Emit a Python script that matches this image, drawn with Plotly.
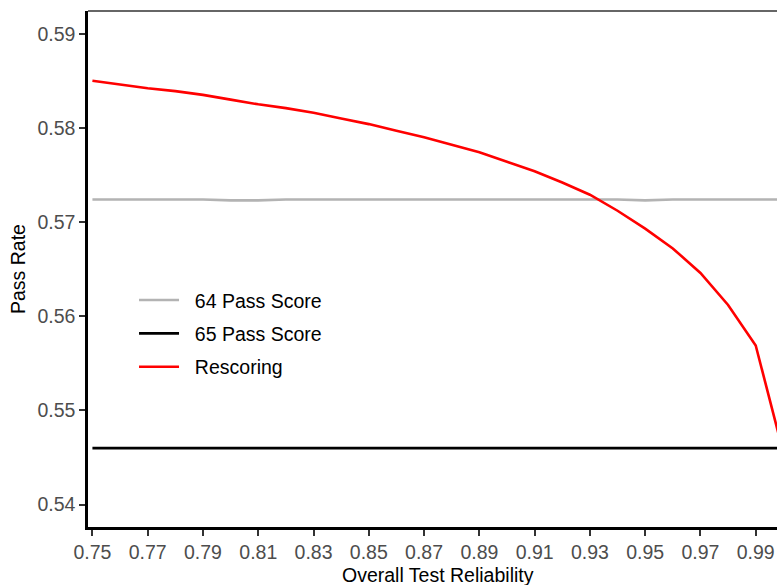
import plotly.graph_objects as go

reliability = [0.75, 0.76, 0.77, 0.78, 0.79, 0.80, 0.81, 0.82, 0.83, 0.84, 0.85, 0.86,
               0.87, 0.88, 0.89, 0.90, 0.91, 0.92, 0.93, 0.94, 0.95, 0.96, 0.97, 0.98,
               0.99, 1.00]
rescoring = [0.5850, 0.5846, 0.5842, 0.5839, 0.5835, 0.5830, 0.5825, 0.5821, 0.5816,
             0.5810, 0.5804, 0.5797, 0.5790, 0.5782, 0.5774, 0.5764, 0.5754, 0.5742,
             0.5729, 0.5712, 0.5693, 0.5672, 0.5646, 0.5612, 0.5569, 0.5455]
pass64 = [0.5724, 0.5724, 0.5724, 0.5724, 0.5724, 0.5723, 0.5723, 0.5724, 0.5724,
          0.5724, 0.5724, 0.5724, 0.5724, 0.5724, 0.5724, 0.5724, 0.5724, 0.5724,
          0.5724, 0.5724, 0.5723, 0.5724, 0.5724, 0.5724, 0.5724, 0.5724]
pass65 = [0.5460, 0.5460, 0.5460, 0.5460, 0.5460, 0.5460, 0.5460, 0.5460, 0.5460,
          0.5460, 0.5460, 0.5460, 0.5460, 0.5460, 0.5460, 0.5460, 0.5460, 0.5460,
          0.5460, 0.5460, 0.5460, 0.5460, 0.5460, 0.5460, 0.5460, 0.5460]
x_ticks = [0.75, 0.77, 0.79, 0.81, 0.83, 0.85, 0.87, 0.89, 0.91, 0.93, 0.95, 0.97, 0.99]
y_ticks = [0.54, 0.55, 0.56, 0.57, 0.58, 0.59]

FONT = "Liberation Sans, Arial, sans-serif"
FS = 19.5
GAP = "\u00a0\u00a0"

fig = go.Figure()
fig.add_trace(go.Scatter(x=reliability, y=pass64, mode="lines", name=GAP + "64 Pass Score",
                         legendgroup="a", line=dict(color="#b3b3b3", width=2.6)))
fig.add_trace(go.Scatter(x=reliability, y=pass65, mode="lines", name=GAP + "65 Pass Score",
                         legendgroup="b", line=dict(color="#000000", width=2.6)))
fig.add_trace(go.Scatter(x=reliability, y=rescoring, mode="lines", name=GAP + "Rescoring",
                         legendgroup="c", line=dict(color="#ff0000", width=2.6)))

fig.update_layout(
    width=777, height=585,
    margin=dict(l=88, r=0, t=11, b=58),
    paper_bgcolor="white", plot_bgcolor="white",
    font=dict(family=FONT, size=FS, color="#000000"),
    showlegend=True,
    legend=dict(x=0.0668, y=0.477, xanchor="left", yanchor="top",
                bgcolor="rgba(0,0,0,0)", font=dict(size=FS, color="#000000"),
                tracegroupgap=5, itemwidth=40),
    xaxis=dict(range=[0.7484, 0.9977], tickvals=x_ticks,
               ticktext=[f"{v:.2f}" for v in x_ticks],
               showgrid=False, zeroline=False,
               showline=True, linecolor="#000000", linewidth=2.5,
               ticks="outside", ticklen=6, tickwidth=2, tickcolor="#333333",
               tickfont=dict(size=FS, color="#4d4d4d", family=FONT)),
    yaxis=dict(range=[0.53762, 0.59241], tickvals=y_ticks,
               ticktext=[f"{v:.2f}" for v in y_ticks],
               showgrid=False, zeroline=False,
               showline=True, linecolor="#000000", linewidth=2.5,
               ticks="outside", ticklen=6, tickwidth=2, tickcolor="#333333",
               tickfont=dict(size=FS, color="#4d4d4d", family=FONT)),
    shapes=[dict(type="line", xref="paper", yref="paper", x0=0, x1=1, y0=1, y1=1,
                 line=dict(color="#333333", width=1.5))],
    annotations=[
        dict(text="Overall Test Reliability", xref="paper", yref="paper",
             x=(438 - 88) / 689, y=-(575 - 527) / 516, xanchor="center", yanchor="middle",
             showarrow=False, font=dict(size=FS, color="#000000", family=FONT)),
        dict(text="Pass Rate", xref="paper", yref="paper",
             x=-(88 - 18) / 689, y=0.5, xanchor="center", yanchor="middle", textangle=-90,
             showarrow=False, font=dict(size=FS, color="#000000", family=FONT)),
    ],
)

fig.write_html("out.html")
